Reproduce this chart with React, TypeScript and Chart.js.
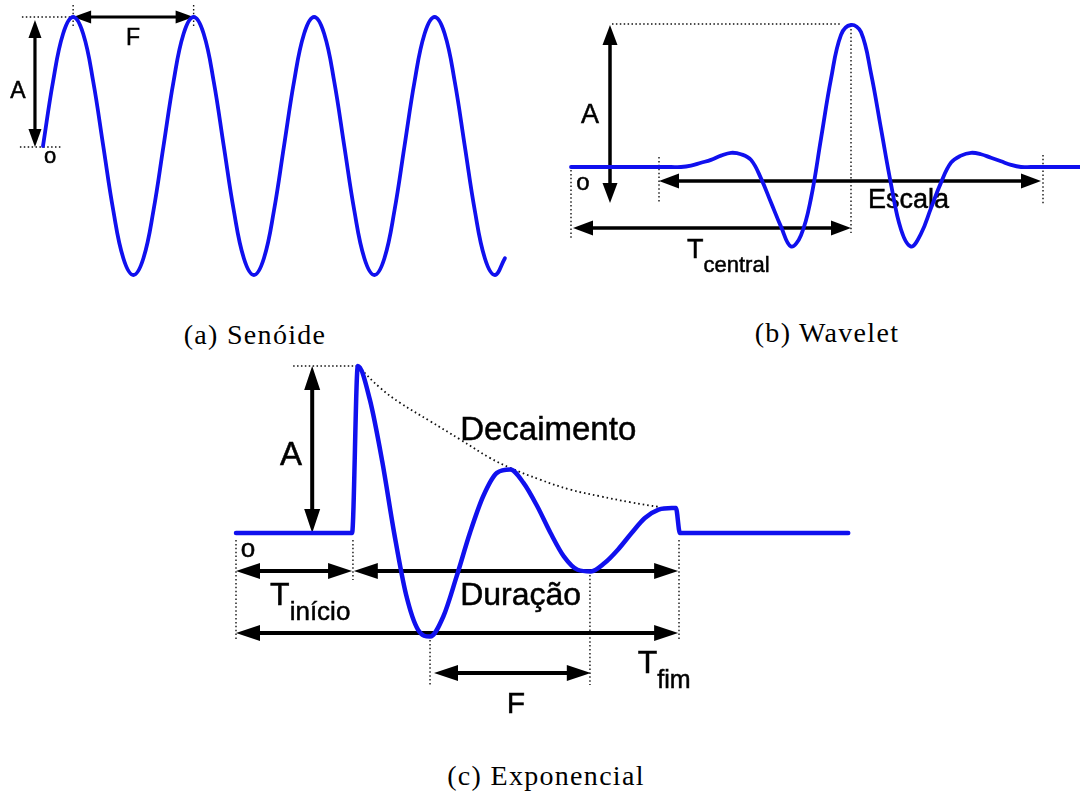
import React, { useEffect, useRef } from "react";
import { Chart, registerables } from "chart.js";

Chart.register(...registerables);

const BLUE = "#1010ee";
const INK = "#000";
const SANS = '"Liberation Sans", Arial, Helvetica, sans-serif';
const SERIF = '"Liberation Serif", "Times New Roman", serif';

// (a) Senóide: twelve samples per period
const sineTime = [
  0, 1, 2, 3, 4, 5, 6, 7, 8, 9, 10, 11,
  12, 13, 14, 15, 16, 17, 18, 19, 20, 21, 22, 23,
  24, 25, 26, 27, 28, 29, 30, 31, 32, 33, 34, 35,
  36, 37, 38, 39, 40, 41, 42, 43, 44, 45, 46,
];
const sineAmp = [
  0, 0.5, 0.87, 1, 0.87, 0.5, 0, -0.5, -0.87, -1, -0.87, -0.5,
  0, 0.5, 0.87, 1, 0.87, 0.5, 0, -0.5, -0.87, -1, -0.87, -0.5,
  0, 0.5, 0.87, 1, 0.87, 0.5, 0, -0.5, -0.87, -1, -0.87, -0.5,
  0, 0.5, 0.87, 1, 0.87, 0.5, 0, -0.5, -0.87, -1, -0.87,
];

// (b) Wavelet centred on t = 0
const waveletTime = [
  -28, -18, -17, -16, -15, -14, -13, -12, -11, -10, -9, -8, -7, -6, -5, -4, -3, -2, -1,
  0, 1, 2, 3, 4, 5, 6, 7, 8, 9, 10, 11, 12, 13, 14, 15, 16, 17, 18, 23,
];
const waveletAmp = [
  0, 0, 0, 0.01, 0.03, 0.05, 0.08, 0.1, 0.09, 0.05, -0.08, -0.25, -0.42, -0.56, -0.48, -0.22, 0.2, 0.62, 0.93,
  1, 0.95, 0.66, 0.27, -0.12, -0.44, -0.56, -0.47, -0.29, -0.11, 0.03, 0.08, 0.1, 0.09, 0.065, 0.04, 0.015, 0, 0, 0,
];

// (c) Exponencial: onset, damped oscillation, end, then rest
const expTime = [
  0, 26.2, 27.5, 30.2, 33.0, 35.7, 38.4, 41.1, 43.8, 46.8, 49.8, 52.8, 55.8, 58.9, 61.9,
  64.9, 68.0, 71.0, 74.0, 77.1, 80.1, 83.2, 86.2, 89.3, 92.3, 95.4, 98.4, 99.3, 100.2, 138.2,
];
const expAmp = [
  0, 0, 1, 0.8, 0.43, 0, -0.37, -0.58, -0.62, -0.5, -0.26, 0, 0.22, 0.36, 0.38,
  0.3, 0.16, 0, -0.14, -0.22, -0.23, -0.18, -0.1, 0, 0.09, 0.14, 0.15, 0.15, 0, 0,
];
const decayTime = [27.5, 32.5, 37.0, 43.8, 50.6, 57.3, 61.9, 68.6, 75.4, 82.2, 88.9, 95.7];
const decayAmp = [1.0, 0.87, 0.78, 0.67, 0.56, 0.45, 0.39, 0.32, 0.26, 0.22, 0.185, 0.155];

const captions = ["(a) Senóide", "(b) Wavelet", "(c) Exponencial"];

type Mark =
  | { kind: "dots"; x1: number; y1: number; x2: number; y2: number }
  | { kind: "arrow"; x1: number; y1: number; x2: number; y2: number }
  | {
      kind: "label";
      x: number;
      y: number;
      text: string;
      size: number;
      align?: CanvasTextAlign;
      sub?: string;
      subSize?: number;
      subDrop?: number;
    };

type Head = { len: number; width: number; line: number };

type Frame = {
  left: number;
  top: number;
  width: number;
  height: number;
  x0: number;
  xUnit: number;
  y0: number;
  yUnit: number;
};

function makeGuides(marks: Mark[], head: Head) {
  return {
    id: "guides",
    beforeDatasetsDraw(chart: any) {
      const ctx: CanvasRenderingContext2D = chart.ctx;
      const xs = chart.scales.x;
      const ys = chart.scales.y;
      const px = (v: number) => xs.getPixelForValue(v);
      const py = (v: number) => ys.getPixelForValue(v);
      ctx.save();
      for (const m of marks) {
        if (m.kind === "dots") {
          ctx.beginPath();
          ctx.setLineDash([1.5, 2.4]);
          ctx.lineWidth = 1.4;
          ctx.strokeStyle = "#111";
          ctx.moveTo(px(m.x1), py(m.y1));
          ctx.lineTo(px(m.x2), py(m.y2));
          ctx.stroke();
        } else if (m.kind === "arrow") {
          const ax = px(m.x1);
          const ay = py(m.y1);
          const bx = px(m.x2);
          const by = py(m.y2);
          const ang = Math.atan2(by - ay, bx - ax);
          const c = Math.cos(ang);
          const s = Math.sin(ang);
          ctx.setLineDash([]);
          ctx.strokeStyle = INK;
          ctx.fillStyle = INK;
          ctx.lineWidth = head.line;
          ctx.beginPath();
          ctx.moveTo(ax + c * head.len * 0.6, ay + s * head.len * 0.6);
          ctx.lineTo(bx - c * head.len * 0.6, by - s * head.len * 0.6);
          ctx.stroke();
          const tip = (tx: number, ty: number, dir: number) => {
            const bxp = tx - dir * c * head.len;
            const byp = ty - dir * s * head.len;
            const hw = head.width / 2;
            ctx.beginPath();
            ctx.moveTo(tx, ty);
            ctx.lineTo(bxp - s * hw, byp + c * hw);
            ctx.lineTo(bxp + s * hw, byp - c * hw);
            ctx.closePath();
            ctx.fill();
          };
          tip(bx, by, 1);
          tip(ax, ay, -1);
        } else {
          ctx.fillStyle = INK;
          ctx.strokeStyle = INK;
          ctx.lineWidth = 0.5;
          ctx.setLineDash([]);
          ctx.textBaseline = "alphabetic";
          ctx.textAlign = m.align || "left";
          ctx.font = `${m.size}px ${SANS}`;
          const X = px(m.x);
          const Y = py(m.y);
          ctx.fillText(m.text, X, Y);
          ctx.strokeText(m.text, X, Y);
          if (m.sub) {
            const w = ctx.measureText(m.text).width;
            ctx.font = `${m.subSize || m.size}px ${SANS}`;
            ctx.textAlign = "left";
            ctx.fillText(m.sub, X + w, Y + (m.subDrop || 0));
            ctx.strokeText(m.sub, X + w, Y + (m.subDrop || 0));
          }
        }
      }
      ctx.restore();
    },
  };
}

function ranges(f: Frame) {
  return {
    x: { min: -f.x0 / f.xUnit, max: (f.width - f.x0) / f.xUnit },
    y: { min: (f.y0 - f.height) / f.yUnit, max: f.y0 / f.yUnit },
  };
}

type PanelSpec = {
  frame: Frame;
  datasets: any[];
  marks: Mark[];
  head: Head;
};

function Panel({ spec }: { spec: PanelSpec }) {
  const ref = useRef<HTMLCanvasElement | null>(null);
  useEffect(() => {
    if (!ref.current) return;
    const r = ranges(spec.frame);
    const chart = new Chart(ref.current, {
      type: "line",
      data: { datasets: spec.datasets },
      options: {
        animation: false,
        responsive: false,
        events: [],
        layout: { padding: 0 },
        plugins: { legend: { display: false }, tooltip: { enabled: false } },
        scales: {
          x: { type: "linear", display: false, min: r.x.min, max: r.x.max },
          y: { type: "linear", display: false, min: r.y.min, max: r.y.max },
        },
      },
      plugins: [makeGuides(spec.marks, spec.head)],
    } as any);
    return () => chart.destroy();
  }, [spec]);
  const f = spec.frame;
  return (
    <canvas
      ref={ref}
      width={f.width}
      height={f.height}
      style={{ position: "absolute", left: f.left, top: f.top, width: f.width, height: f.height }}
    />
  );
}

const pts = (xs: number[], ys: number[]) => xs.map((x, i) => ({ x, y: ys[i] }));

const curve = (data: { x: number; y: number }[], width: number, extra: any = {}) => ({
  data,
  borderColor: BLUE,
  borderWidth: width,
  pointRadius: 0,
  fill: false,
  borderCapStyle: "round",
  borderJoinStyle: "round",
  ...extra,
});

const panelA: PanelSpec = {
  frame: { left: 0, top: 0, width: 540, height: 300, x0: 43, xUnit: 10.042, y0: 146, yUnit: 129 },
  datasets: [curve(pts(sineTime, sineAmp), 3.8, { tension: 0.4 })],
  head: { len: 18, width: 13, line: 3.2 },
  marks: [
    { kind: "dots", x1: -2.1, y1: 1, x2: 3, y2: 1 },
    { kind: "dots", x1: -2.3, y1: -0.008, x2: 1.9, y2: -0.008 },
    { kind: "dots", x1: 3, y1: 1.093, x2: 3, y2: 0.915 },
    { kind: "dots", x1: 15, y1: 1.093, x2: 15, y2: 0.915 },
    { kind: "arrow", x1: -0.8, y1: 0.977, x2: -0.8, y2: -0.008 },
    { kind: "arrow", x1: 3, y1: 1, x2: 15, y2: 1 },
    { kind: "label", x: -2.49, y: 0.372, text: "A", size: 23, align: "center" },
    { kind: "label", x: 0.7, y: -0.132, text: "o", size: 22, align: "center" },
    { kind: "label", x: 8.96, y: 0.783, text: "F", size: 23, align: "center" },
  ],
};

const panelB: PanelSpec = {
  frame: { left: 540, top: 0, width: 540, height: 300, x0: 311, xUnit: 10, y0: 167, yUnit: 142 },
  datasets: [curve(pts(waveletTime, waveletAmp), 3.8, { tension: 0.4 })],
  head: { len: 20, width: 15, line: 3.5 },
  marks: [
    { kind: "dots", x1: -23.9, y1: 1.007, x2: -1.1, y2: 1.007 },
    { kind: "dots", x1: -28, y1: -0.021, x2: -28, y2: -0.5 },
    { kind: "dots", x1: -19.2, y1: 0.07, x2: -19.2, y2: -0.246 },
    { kind: "dots", x1: 0, y1: 1, x2: 0, y2: -0.465 },
    { kind: "dots", x1: 19.2, y1: 0.085, x2: 19.2, y2: -0.268 },
    { kind: "arrow", x1: -24.1, y1: 1, x2: -24.1, y2: -0.254 },
    { kind: "arrow", x1: -19.2, y1: -0.099, x2: 19.0, y2: -0.099 },
    { kind: "arrow", x1: -27.8, y1: -0.43, x2: 0, y2: -0.43 },
    { kind: "label", x: -26.1, y: 0.31, text: "A", size: 27, align: "center" },
    { kind: "label", x: -26.8, y: -0.162, text: "o", size: 24, align: "center" },
    { kind: "label", x: 1.7, y: -0.289, text: "Escala", size: 27 },
    { kind: "label", x: -16.4, y: -0.641, text: "T", size: 27, sub: "central", subSize: 22, subDrop: 14 },
  ],
};

const panelC: PanelSpec = {
  frame: { left: 200, top: 350, width: 700, height: 400, x0: 36, xUnit: 4.43, y0: 183, yUnit: 167 },
  datasets: [
    curve(pts(expTime, expAmp), 4.5, { cubicInterpolationMode: "monotone" }),
    {
      data: pts(decayTime, decayAmp),
      borderColor: "#111",
      borderWidth: 1.8,
      borderDash: [1.6, 3],
      pointRadius: 0,
      fill: false,
      tension: 0.4,
    },
  ],
  head: { len: 24, width: 16, line: 4 },
  marks: [
    { kind: "dots", x1: 12.9, y1: 1, x2: 27.5, y2: 1 },
    { kind: "dots", x1: 0, y1: -0.042, x2: 0, y2: -0.641 },
    { kind: "dots", x1: 26.4, y1: -0.042, x2: 26.4, y2: -0.281 },
    { kind: "dots", x1: 100, y1: -0.042, x2: 100, y2: -0.641 },
    { kind: "dots", x1: 43.8, y1: -0.641, x2: 43.8, y2: -0.91 },
    { kind: "dots", x1: 79.9, y1: -0.251, x2: 79.9, y2: -0.91 },
    { kind: "arrow", x1: 17.2, y1: 1, x2: 17.2, y2: 0 },
    { kind: "arrow", x1: 0, y1: -0.228, x2: 26.2, y2: -0.228 },
    { kind: "arrow", x1: 26.6, y1: -0.228, x2: 99.8, y2: -0.228 },
    { kind: "arrow", x1: 0, y1: -0.599, x2: 99.8, y2: -0.599 },
    { kind: "arrow", x1: 44.7, y1: -0.838, x2: 80.1, y2: -0.838 },
    { kind: "label", x: 12.4, y: 0.407, text: "A", size: 33, align: "center" },
    { kind: "label", x: 2.7, y: -0.144, text: "o", size: 26, align: "center" },
    { kind: "label", x: 50.6, y: 0.557, text: "Decaimento", size: 33 },
    { kind: "label", x: 50.6, y: -0.431, text: "Duração", size: 32 },
    { kind: "label", x: 63.2, y: -1.078, text: "F", size: 30, align: "center" },
    { kind: "label", x: 7.7, y: -0.431, text: "T", size: 32, sub: "início", subSize: 26, subDrop: 15 },
    { kind: "label", x: 90.7, y: -0.838, text: "T", size: 32, sub: "fim", subSize: 25, subDrop: 15 },
  ],
};

const captionStyle = (cx: number, top: number): React.CSSProperties => ({
  position: "absolute",
  left: cx - 200,
  top,
  width: 400,
  textAlign: "center",
  fontFamily: SERIF,
  fontSize: 28,
  lineHeight: "30px",
  letterSpacing: "1.3px",
  color: "#000",
  whiteSpace: "nowrap",
});

export default function App() {
  return (
    <div
      style={{
        position: "absolute",
        left: 0,
        top: 0,
        width: 1080,
        height: 803,
        background: "#fff",
        overflow: "hidden",
      }}
    >
      <Panel spec={panelA} />
      <Panel spec={panelB} />
      <Panel spec={panelC} />
      <div style={captionStyle(255, 320)}>{captions[0]}</div>
      <div style={captionStyle(827, 318)}>{captions[1]}</div>
      <div style={captionStyle(546, 761)}>{captions[2]}</div>
    </div>
  );
}
